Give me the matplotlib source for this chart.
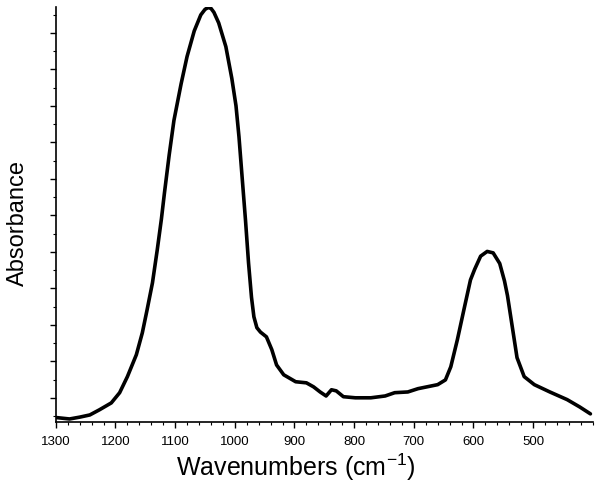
import numpy as np
import matplotlib
matplotlib.use("Agg")
import matplotlib.pyplot as plt
from matplotlib.ticker import MultipleLocator

plt.rcParams['font.family'] = ['Liberation Sans', 'DejaVu Sans']

# FTIR spectrum (wavenumber in cm-1, absorbance, arbitrary units)
wavenumber = [1300, 1277, 1260, 1243, 1227, 1207, 1193, 1180, 1165, 1155,
              1147, 1138, 1130, 1123, 1118, 1110, 1102, 1090, 1080, 1068,
              1057, 1050, 1045, 1040, 1035, 1027, 1015, 1005, 998, 993,
              988, 982, 977, 972, 968, 963, 957, 947, 938, 930,
              918, 898, 880, 868, 857, 847, 838, 830, 818, 798,
              772, 748, 732, 710, 693, 660, 647, 638, 627, 615,
              605, 598, 588, 577, 567, 556, 548, 543, 535, 527,
              515, 498, 472, 443, 422, 404]
absorbance = [0.046, 0.042, 0.047, 0.053, 0.067, 0.086, 0.114, 0.158, 0.218, 0.278,
              0.341, 0.415, 0.505, 0.590, 0.660, 0.765, 0.860, 0.960, 1.035, 1.105,
              1.149, 1.164, 1.169, 1.167, 1.156, 1.127, 1.062, 0.975, 0.900, 0.815,
              0.710, 0.585, 0.470, 0.375, 0.322, 0.292, 0.280, 0.267, 0.232, 0.190,
              0.163, 0.144, 0.141, 0.130, 0.116, 0.105, 0.122, 0.119, 0.103, 0.100,
              0.100, 0.105, 0.114, 0.116, 0.125, 0.136, 0.149, 0.185, 0.259, 0.349,
              0.423, 0.452, 0.488, 0.501, 0.497, 0.468, 0.420, 0.380, 0.295, 0.210,
              0.158, 0.136, 0.116, 0.095, 0.075, 0.056]

x_ticks = [1300, 1200, 1100, 1000, 900, 800, 700, 600, 500]

fig = plt.figure(figsize=(6.0, 4.9), dpi=100)
ax = fig.add_axes([0.093, 0.139, 0.895, 0.847])

ax.plot(wavenumber, absorbance, color='black', linewidth=2.6,
        solid_joinstyle='round', solid_capstyle='round')

ax.set_xlim(1300, 400)
ax.set_ylim(0.034, 1.171)

ax.set_xticks(x_ticks)
ax.set_xticklabels([str(t) for t in x_ticks])
ax.xaxis.set_minor_locator(MultipleLocator(20))
ax.yaxis.set_major_locator(MultipleLocator(0.1))
ax.yaxis.set_minor_locator(MultipleLocator(0.05))
ax.set_yticklabels([])

ax.tick_params(axis='both', which='major', direction='out', length=4, width=1,
               labelsize=9.5, pad=6, colors='black')
ax.tick_params(axis='both', which='minor', direction='out', length=2.5, width=0.8)

for side in ['top', 'right']:
    ax.spines[side].set_visible(False)
for side in ['left', 'bottom']:
    ax.spines[side].set_linewidth(1.2)

ax.set_xlabel('Wavenumbers (cm$^{\\mathregular{-1}}$)', fontsize=18, va='center')
ax.xaxis.set_label_coords(0.447, -0.11)
ax.set_ylabel('Absorbance', fontsize=17, va='center')
ax.yaxis.set_label_coords(-0.071, 0.48)

fig.savefig('out.png', dpi=100)
